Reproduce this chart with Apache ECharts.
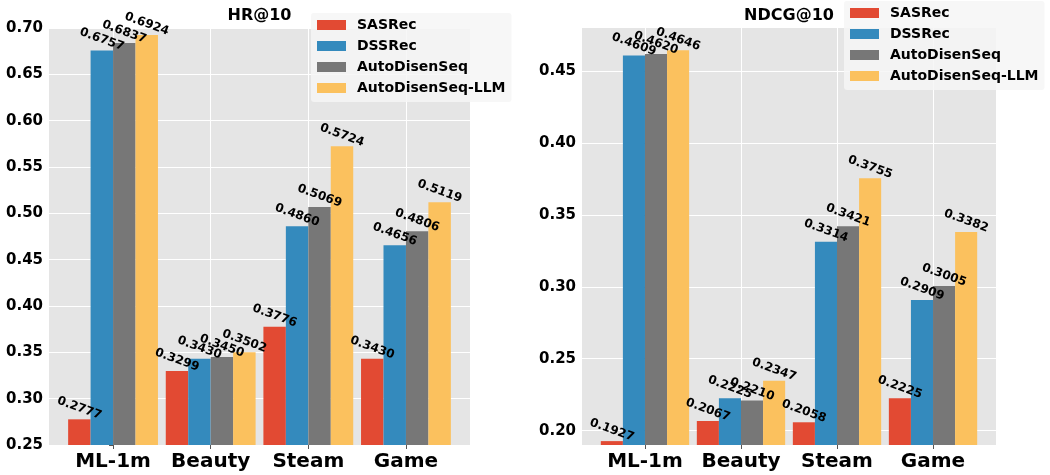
<!DOCTYPE html>
<html>
<head>
<meta charset="utf-8">
<script src="https://cdn.jsdelivr.net/npm/echarts@6/dist/echarts.min.js"></script>
<style>html,body{margin:0;padding:0;background:#fff;}#c{width:1050px;height:475px;}</style>
</head>
<body>
<div id="c"></div>
<script>
const categories = ['ML-1m', 'Beauty', 'Steam', 'Game'];
const methods = ['SASRec', 'DSSRec', 'AutoDisenSeq', 'AutoDisenSeq-LLM'];
const colors = ['#E24A33', '#348ABD', '#777777', '#FBC15E'];

const hrSASRec = [0.2777, 0.3299, 0.3776, 0.3430];
const hrDSSRec = [0.6757, 0.3430, 0.4860, 0.4656];
const hrAutoDisenSeq = [0.6837, 0.3450, 0.5069, 0.4806];
const hrAutoDisenSeqLLM = [0.6924, 0.3502, 0.5724, 0.5119];

const ndcgSASRec = [0.1927, 0.2067, 0.2058, 0.2225];
const ndcgDSSRec = [0.4609, 0.2225, 0.3314, 0.2909];
const ndcgAutoDisenSeq = [0.4620, 0.2210, 0.3421, 0.3005];
const ndcgAutoDisenSeqLLM = [0.4646, 0.2347, 0.3755, 0.3382];

const hrTicks = [0.25, 0.30, 0.35, 0.40, 0.45, 0.50, 0.55, 0.60, 0.65, 0.70];
const ndcgTicks = [0.20, 0.25, 0.30, 0.35, 0.40, 0.45];

const hrSets = [hrSASRec, hrDSSRec, hrAutoDisenSeq, hrAutoDisenSeqLLM];
const ndcgSets = [ndcgSASRec, ndcgDSSRec, ndcgAutoDisenSeq, ndcgAutoDisenSeqLLM];

const FONT = 'DejaVu Sans';
const catIdx = categories.map((c, i) => i);

function xAxis(gridIndex) {
  return {
    type: 'value', gridIndex: gridIndex, min: -0.656, max: 3.656,
    axisLine: { show: false },
    axisTick: { show: true, length: 4, lineStyle: { color: '#555' }, customValues: catIdx },
    axisLabel: {
      customValues: catIdx, margin: 7,
      formatter: v => categories[Math.round(v)] || '',
      fontFamily: FONT, fontSize: 20, fontWeight: 'bold', color: '#000'
    },
    splitLine: { show: true, lineStyle: { color: '#fff', width: 1 } }
  };
}
function yAxis(gridIndex, min, max, ticks) {
  return {
    type: 'value', gridIndex: gridIndex, min: min, max: max,
    axisLine: { show: false },
    axisTick: { show: true, length: 4, lineStyle: { color: '#555' }, customValues: ticks },
    axisLabel: {
      customValues: ticks, margin: 6,
      formatter: v => v.toFixed(2),
      fontFamily: FONT, fontSize: 15, fontWeight: 'bold', color: '#000'
    },
    splitLine: { show: true, lineStyle: { color: '#fff', width: 1 } }
  };
}
function makeSeries(sets, axisIndex) {
  return methods.map((m, k) => ({
    type: 'bar', name: m, xAxisIndex: axisIndex, yAxisIndex: axisIndex,
    data: categories.map((c, i) => [i, sets[k][i]]),
    barWidth: '23%', barGap: '0%',
    itemStyle: { color: colors[k] },
    label: {
      show: true, position: 'top', distance: 11, rotate: -20,
      align: 'center', verticalAlign: 'middle',
      formatter: p => p.value[1].toFixed(4),
      fontFamily: FONT, fontSize: 12, fontWeight: 'bold', color: '#000'
    }
  }));
}
function legend(left, top) {
  return {
    orient: 'vertical', left: left, top: top,
    data: methods, icon: 'rect', itemWidth: 29, itemHeight: 10, itemGap: 7,
    padding: [5, 6, 7, 6],
    backgroundColor: 'rgba(245,245,245,0.82)', borderRadius: 3,
    textStyle: { fontFamily: FONT, fontSize: 14, fontWeight: 'bold', color: '#000', lineHeight: 14, padding: [0, 0, 0, 6] },
    selectedMode: false
  };
}

const chart = echarts.init(document.getElementById('c'), null, { renderer: 'canvas' });
chart.setOption({
  animation: false,
  textStyle: { fontFamily: FONT },
  title: [
    { text: 'HR@10', left: 259.5, top: 8, textAlign: 'center', padding: 0,
      textStyle: { fontFamily: FONT, fontSize: 16, fontWeight: 'bold', color: '#000' } },
    { text: 'NDCG@10', left: 789, top: 8, textAlign: 'center', padding: 0,
      textStyle: { fontFamily: FONT, fontSize: 16, fontWeight: 'bold', color: '#000' } }
  ],
  legend: [legend(311, 13), legend(844, 1)],
  grid: [
    { left: 49, right: 580, top: 28, bottom: 30, show: true, backgroundColor: '#E5E5E5', borderWidth: 0, containLabel: false },
    { left: 582, right: 54, top: 28, bottom: 30, show: true, backgroundColor: '#E5E5E5', borderWidth: 0, containLabel: false }
  ],
  xAxis: [xAxis(0), xAxis(1)],
  yAxis: [yAxis(0, 0.25, 0.70, hrTicks), yAxis(1, 0.19, 0.48, ndcgTicks)],
  series: makeSeries(hrSets, 0).concat(makeSeries(ndcgSets, 1))
});
</script>
</body>
</html>
